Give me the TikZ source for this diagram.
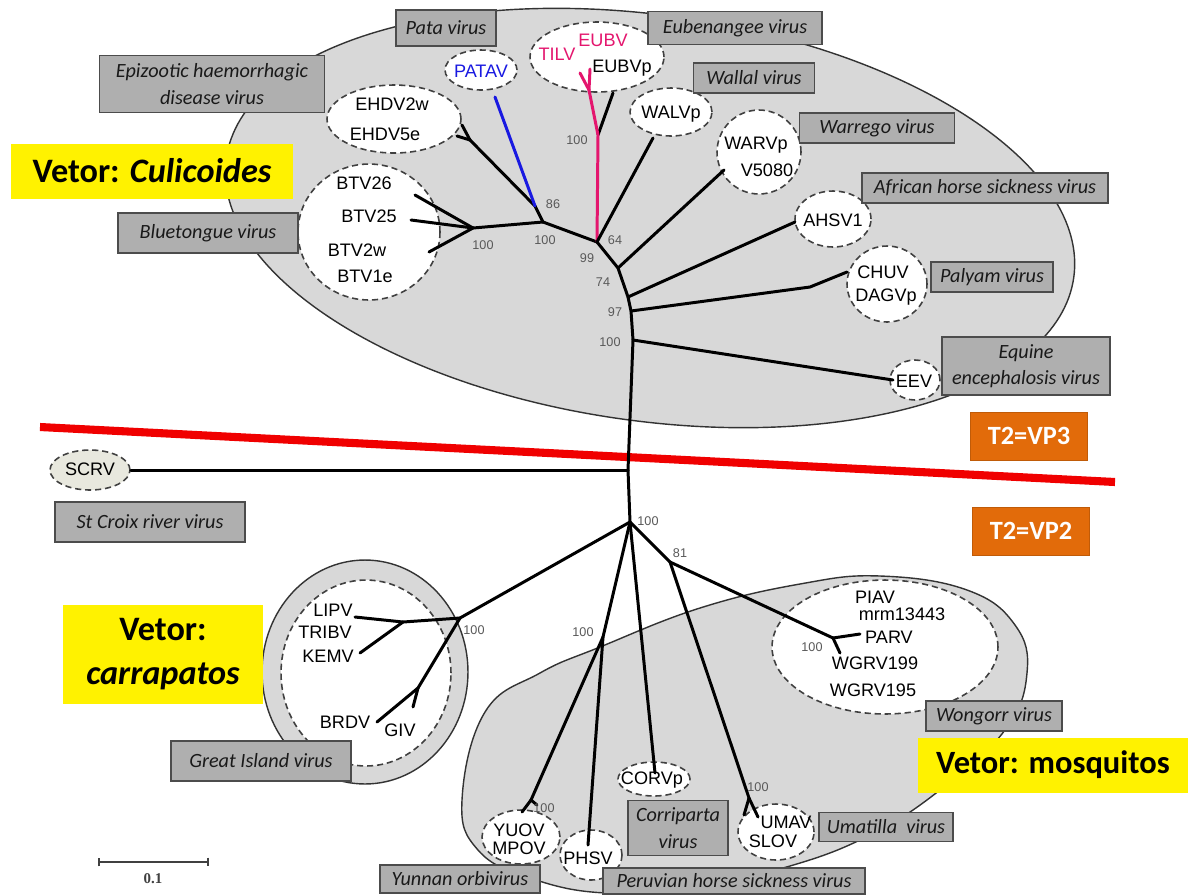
\documentclass[tikz,border=0pt]{standalone}
\usepackage{fontspec}
\setmainfont{Liberation Sans}
\newfontfamily\calfont{Carlito}
\newfontfamily\serfont{Liberation Serif}
\usetikzlibrary{
  shapes.geometric,
  arrows.meta,
  calc
}
\definecolor{shade}{RGB}{216,216,216}
\definecolor{boxgray}{RGB}{175,175,175}
\definecolor{tagorange}{RGB}{226,107,10}
\definecolor{tilpink}{RGB}{228,22,110}
\definecolor{patblue}{RGB}{25,25,225}
\definecolor{cutred}{RGB}{240,0,0}
\definecolor{scrvfill}{RGB}{232,232,222}
\tikzset{
  region/.style={fill=shade,draw=black!80,line width=0.8pt},
  oval/.style 2 args={ellipse,draw=black!75,dashed,dash pattern=on 3.5pt off 2.2pt,
    line width=0.9pt,fill=white,inner sep=0pt,minimum width=#1*0.4mm,minimum height=#2*0.4mm},
  vbox/.style 2 args={rectangle,draw=black!70,fill=boxgray,line width=0.8pt,
    minimum width=#1*0.2mm,minimum height=#2*0.2mm,inner sep=1pt,align=center,
    font=\calfont\itshape\fontsize{11.5}{15}\selectfont,text=black!90},
  vetor/.style 2 args={rectangle,fill=yellow,minimum width=#1*0.2mm,minimum height=#2*0.2mm,
    align=center,inner sep=0pt,font=\calfont\bfseries\fontsize{19.5}{25}\selectfont},
  tag/.style={rectangle,fill=tagorange,draw=tagorange!85!black,text=white,
    minimum width=117*0.2mm,minimum height=48*0.2mm,font=\calfont\bfseries\fontsize{15}{18}\selectfont},
  tip/.style={inner sep=0pt,font=\fontsize{10.3}{11}\selectfont},
  boot/.style={inner sep=0pt,text=black!65,font=\fontsize{7.2}{8}\selectfont},
  branch/.style={line width=1.7pt,line cap=round,line join=round}
}

\begin{document}
\begin{tikzpicture}[x=0.02cm,y=-0.02cm]
\useasboundingbox[fill=white] (0,0) rectangle (1197,894);

% Groups
\draw[region,rotate around={-8:(650,218)}] (650,218) ellipse [x radius=428*0.2mm,y radius=203*0.2mm];
\draw[region] plot[smooth cycle,tension=0.7] coordinates {
  (462,800) (485,712) (540,673) (600,647) (700,608) (800,584) (880,576) (967,590)
  (1015,625) (1027,673) (1005,730) (940,790) (870,835) (790,866) (700,885)
  (607,893) (530,878) (478,850)};
\draw[region] (365,672) ellipse [x radius=103*0.2mm,y radius=112*0.2mm];

% Leaf clusters
\node[oval={67}{34}] (oEHDV) at (394,119) {};
\node[oval={36}{20}] (oPATAV) at (481,70) {};
\node[oval={67}{35}] (oEUBV) at (597,57) {};
\node[oval={41}{24}] (oWALV) at (671,112) {};
\node[oval={42}{42}] (oWARV) at (759,152) {};
\node[oval={38}{28}] (oAHSV) at (833,219) {};
\node[oval={40}{38}] (oCHUV) at (887,284) {};
\node[oval={25}{20}] (oEEV) at (915,380) {};
\node[oval={71}{68}] (oBTV) at (369,232) {};
\node[oval={40}{20},fill=scrvfill] (oSCRV) at (90,470) {};
\node[oval={85}{93}] (oGIV) at (366,673) {};
\node[oval={113}{67}] (oWGRV) at (885,647) {};
\node[oval={36}{17}] (oCORV) at (654,779) {};
\node[oval={39}{27}] (oYUOV) at (521,837) {};
\node[oval={31}{25}] (oPHSV) at (591,855) {};
\node[oval={38}{28}] (oUMAV) at (776,832) {};

% Cut line
\coordinate (cutW) at (40,427);
\coordinate (cutE) at (1115,482);
\draw[cutred,line width=4.6pt] (cutW) -- (cutE);

% Inner nodes
\coordinate (nBT) at (473,228);
\coordinate (nBE) at (543,222);
\coordinate (nPA) at (535,206);
\coordinate (nEH) at (470,140);
\coordinate (n99) at (597,242);
\coordinate (nEU) at (598,135);
\coordinate (nTE) at (589,90);
\coordinate (n74) at (618,268);
\coordinate (nAH) at (628,297);
\coordinate (n97) at (631,311);
\coordinate (nEE) at (633,340);
\coordinate (nCH) at (810,287);
\coordinate (nTr) at (628,470);
\coordinate (nLow) at (630,522);
\coordinate (nGI) at (460,618);
\coordinate (nLI) at (403,622);
\coordinate (nBR) at (418,688);
\coordinate (n81) at (670,562);
\coordinate (nWG) at (833,638);
\coordinate (nYP) at (603,637);
\coordinate (nYU) at (531,800);
\coordinate (nUM) at (749,798);

% Tips
\coordinate (xBTV26) at (415,195);
\coordinate (xBTV25) at (411,220);
\coordinate (xBTV2w) at (429,252);
\coordinate (xEHDV2w) at (462,125);
\coordinate (xEHDV5e) at (457,136);
\coordinate (xPATAV) at (495,97);
\coordinate (xTILV) at (580,73);
\coordinate (xEUBV) at (590,69);
\coordinate (xEUBVp) at (613,93);
\coordinate (xWALV) at (653,138);
\coordinate (xWARV) at (724,170);
\coordinate (xAHSV) at (795,222);
\coordinate (xCHUV) at (847,272);
\coordinate (xEEV) at (893,380);
\coordinate (xLIPV) at (355,617);
\coordinate (xKEMV) at (360,653);
\coordinate (xBRDV) at (377,722);
\coordinate (xGIV) at (413,707);
\coordinate (xPARV) at (860,634);
\coordinate (xWGRV) at (840,653);
\coordinate (xCORV) at (655,773);
\coordinate (xYUOV) at (522,812);
\coordinate (xMPOV) at (537,805);
\coordinate (xPHSV) at (588,845);
\coordinate (xUMAV) at (758,817);
\coordinate (xSLOV) at (744,815);

% Branches
\draw[branch] (nBT) -- (xBTV26);
\draw[branch] (nBT) -- (xBTV25);
\draw[branch] (nBT) -- (xBTV2w);
\draw[branch] (nBE) -- (nBT);
\draw[branch] (n99) -- (nBE) -- (nPA) -- (nEH);
\draw[branch] (nEH) -- (xEHDV2w);
\draw[branch] (nEH) -- (xEHDV5e);
\draw[branch,patblue] (nPA) -- (xPATAV);
\draw[branch] (nEU) -- (xEUBVp);
\draw[branch,tilpink] (n99) -- (nEU) -- (nTE);
\draw[branch,tilpink] (nTE) -- (xTILV);
\draw[branch,tilpink] (nTE) -- (xEUBV);
\draw[branch] (n99) -- (xWALV);
\draw[branch] (n99) -- (n74) -- (nAH) -- (n97) -- (nEE) -- (nTr) -- (nLow);
\draw[branch] (n74) -- (xWARV);
\draw[branch] (nAH) -- (xAHSV);
\draw[branch] (n97) -- (nCH) -- (xCHUV);
\draw[branch] (nEE) -- (xEEV);
\draw[branch] (oSCRV.east) -- (nTr);
\draw[branch] (nLow) -- (nGI);
\draw[branch] (nGI) -- (nLI);
\draw[branch] (nLI) -- (xLIPV);
\draw[branch] (nLI) -- (xKEMV);
\draw[branch] (nGI) -- (nBR);
\draw[branch] (nBR) -- (xBRDV);
\draw[branch] (nBR) -- (xGIV);
\draw[branch] (nLow) -- (nYP);
\draw[branch] (nYP) -- (nYU);
\draw[branch] (nYU) -- (xYUOV);
\draw[branch] (nYU) -- (xMPOV);
\draw[branch] (nYP) -- (xPHSV);
\draw[branch] (nLow) -- (xCORV);
\draw[branch] (nLow) -- (n81);
\draw[branch] (n81) -- (nUM);
\draw[branch] (nUM) -- (xUMAV);
\draw[branch] (nUM) -- (xSLOV);
\draw[branch] (n81) -- (nWG);
\draw[branch] (nWG) -- (xPARV);
\draw[branch] (nWG) -- (xWGRV);

% Bootstrap values
\node[boot] (b86) at (553,204) {86};
\node[boot] (b100a) at (545,240) {100};
\node[boot] (b100b) at (483,245) {100};
\node[boot] (b100c) at (577,140) {100};
\node[boot] (b64) at (615,240) {64};
\node[boot] (b99) at (587,258) {99};
\node[boot] (b74) at (603,282) {74};
\node[boot] (b97) at (615,312) {97};
\node[boot] (b100d) at (610,342) {100};
\node[boot] (b100e) at (648,521) {100};
\node[boot] (b81) at (680,553) {81};
\node[boot] (b100f) at (474,630) {100};
\node[boot] (b100g) at (583,632) {100};
\node[boot] (b100h) at (544,808) {100};
\node[boot] (b100i) at (758,787) {100};
\node[boot] (b100j) at (812,647) {100};

% Leaf names
\node[tip] (tEHDV2w) at (392,104) {EHDV2w};
\node[tip] (tEHDV5e) at (385,134) {EHDV5e};
\node[tip,text=patblue] (tPATAV) at (481,71) {PATAV};
\node[tip,text=tilpink] (tTILV) at (557,54) {TILV};
\node[tip,text=tilpink] (tEUBV) at (603,40) {EUBV};
\node[tip] (tEUBVp) at (622,68) {EUBVp};
\node[tip] (tWALV) at (671,114) {WALVp};
\node[tip] (tWARV) at (756,145) {WARVp};
\node[tip] (tV5080) at (767,170) {V5080};
\node[tip] (tAHSV) at (833,220) {AHSV1};
\node[tip] (tCHUV) at (883,272) {CHUV};
\node[tip] (tDAGV) at (886,297) {DAGVp};
\node[tip] (tEEV) at (914,381) {EEV};
\node[tip] (tBTV26) at (364,183) {BTV26};
\node[tip] (tBTV25) at (369,216) {BTV25};
\node[tip] (tBTV2w) at (357,250) {BTV2w};
\node[tip] (tBTV1e) at (365,276) {BTV1e};
\node[tip] (tSCRV) at (90,469) {SCRV};
\node[tip] (tLIPV) at (333,610) {LIPV};
\node[tip] (tTRIBV) at (325,632) {TRIBV};
\node[tip] (tKEMV) at (328,656) {KEMV};
\node[tip] (tBRDV) at (345,722) {BRDV};
\node[tip] (tGIV) at (400,730) {GIV};
\node[tip] (tPIAV) at (875,597) {PIAV};
\node[tip] (tMRM) at (902,614) {mrm13443};
\node[tip] (tPARV) at (889,637) {PARV};
\node[tip] (tWGRV199) at (875,663) {WGRV199};
\node[tip] (tWGRV195) at (873,690) {WGRV195};
\node[tip] (tCORV) at (652,780) {CORVp};
\node[tip] (tYUOV) at (519,830) {YUOV};
\node[tip] (tMPOV) at (519,848) {MPOV};
\node[tip] (tPHSV) at (588,858) {PHSV};
\node[tip] (tUMAV) at (786,822) {UMAV};
\node[tip] (tSLOV) at (773,841) {SLOV};

% Virus names
\node[vbox={100}{36}] (lPata) at (446,28) {Pata virus};
\node[vbox={174}{33}] (lEube) at (735,28) {Eubenangee virus};
\node[vbox={225}{57}] (lEpiz) at (212,84) {Epizootic haemorrhagic\\disease virus};
\node[vbox={121}{30}] (lWall) at (754,78) {Wallal virus};
\node[vbox={155}{30}] (lWarr) at (877,128) {Warrego virus};
\node[vbox={246}{30}] (lAfri) at (985,188) {African horse sickness virus};
\node[vbox={180}{40}] (lBlue) at (208,233) {Bluetongue virus};
\node[vbox={122}{30}] (lPaly) at (992,277) {Palyam virus};
\node[vbox={168}{58}] (lEqui) at (1026,366) {Equine\\encephalosis virus};
\node[vbox={190}{40}] (lStCr) at (150,522) {St Croix river virus};
\node[vbox={180}{40}] (lGrea) at (261,761) {Great Island virus};
\node[vbox={136}{30}] (lWong) at (994,716) {Wongorr virus};
\node[vbox={100}{55}] (lCorr) at (678,828) {Corriparta\\virus};
\node[vbox={134}{29}] (lUmat) at (886,827) {Umatilla\ \ virus};
\node[vbox={160}{28}] (lYunn) at (460,879) {Yunnan orbivirus};
\node[vbox={262}{26}] (lPeru) at (734,881) {Peruvian horse sickness virus};

% Vectors and segments
\node[vetor={282}{55}] (vCuli) at (152,171) {Vetor: \textit{Culicoides}};
\node[vetor={201}{99}] (vCarr) at (163,654) {Vetor:\\\textit{carrapatos}};
\node[vetor={270}{55},font=\calfont\bfseries\fontsize{18.5}{22}\selectfont] (vMosq) at (1053,765) {Vetor: mosquitos};
\node[tag] (tVP3) at (1029,436) {T2=VP3};
\node[tag] (tVP2) at (1031,531) {T2=VP2};

% Scale
\coordinate (sbL) at (98,862);
\coordinate (sbR) at (209,862);
\draw[black!75,line width=0.9pt,{Bar[width=5pt]}-{Bar[width=5pt]}] (sbL) -- (sbR);
\node[inner sep=0pt,font=\serfont\bfseries\fontsize{8.5}{9}\selectfont,text=black!75] (sbT) at (153,879) {0.1};

\end{tikzpicture}
\end{document}
